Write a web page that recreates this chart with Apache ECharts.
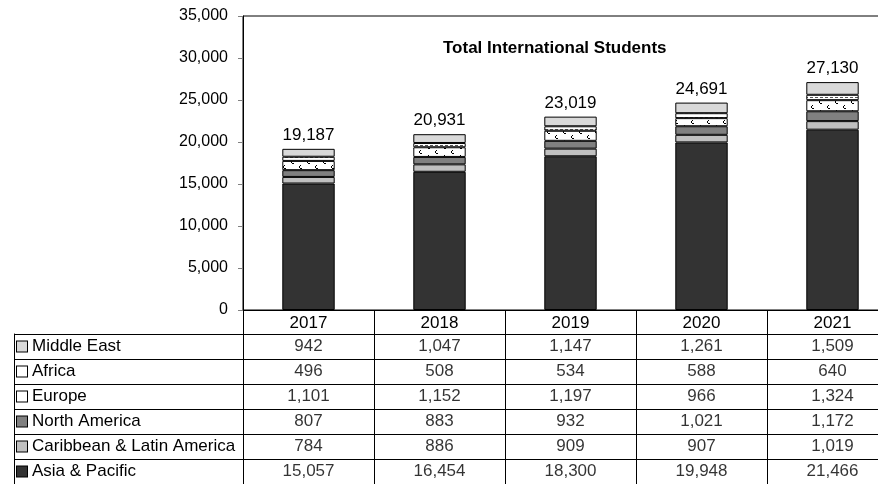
<!DOCTYPE html>
<html>
<head>
<meta charset="utf-8">
<script src="https://cdn.jsdelivr.net/npm/echarts@6/dist/echarts.min.js"></script>
<style>
html,body{margin:0;padding:0;background:#fff;}
#chart{width:878px;height:484px;}
</style>
</head>
<body>
<div id="chart"></div>
<script>
const years = ['2017', '2018', '2019', '2020', '2021'];
const rowNames = ['Middle East', 'Africa', 'Europe', 'North America', 'Caribbean & Latin America', 'Asia & Pacific'];
const asiaPacific = [15057, 16454, 18300, 19948, 21466];
const caribbeanLatinAmerica = [784, 886, 909, 907, 1019];
const northAmerica = [807, 883, 932, 1021, 1172];
const europe = [1101, 1152, 1197, 966, 1324];
const africa = [496, 508, 534, 588, 640];
const middleEast = [942, 1047, 1147, 1261, 1509];
const totals = [19187, 20931, 23019, 24691, 27130];
const yTicks = [0, 5000, 10000, 15000, 20000, 25000, 30000, 35000];

const FONT = "'Liberation Sans', Arial, sans-serif";
const fmt = v => Number(v).toLocaleString('en-US');

function makePattern(w, h, marks, ink) {
  const c = document.createElement('canvas');
  c.width = w; c.height = h;
  const g = c.getContext('2d');
  g.fillStyle = '#ffffff';
  g.fillRect(0, 0, w, h);
  g.fillStyle = ink;
  marks.forEach(d => g.fillRect(d[0], d[1], d[2] || 1, d[3] || 1));
  return c;
}
function curl(x, y) {
  return [[x + 1, y, 1, 1], [x, y + 1, 1, 2], [x + 1, y + 3, 2, 1]];
}
const europePattern = {
  image: makePattern(16, 10, curl(3, 0).concat(curl(11, 5)), '#000000'),
  repeat: 'repeat'
};
const africaPattern = { image: makePattern(5, 4, [[0, 1, 3, 1]], '#555555'), repeat: 'repeat' };

const seriesDefs = [
  { name: 'Asia & Pacific', data: asiaPacific, color: '#333333', sw: '#333333' },
  { name: 'Caribbean & Latin America', data: caribbeanLatinAmerica, color: '#c0c0c0', sw: '#c0c0c0' },
  { name: 'North America', data: northAmerica, color: '#808080', sw: '#808080' },
  { name: 'Europe', data: europe, color: europePattern, sw: '#ffffff' },
  { name: 'Africa', data: africa, color: africaPattern, sw: '#ffffff' },
  { name: 'Middle East', data: middleEast, color: '#d9d9d9', sw: '#d9d9d9' }
];
const rowSeries = { 'Middle East': middleEast, 'Africa': africa, 'Europe': europe, 'North America': northAmerica, 'Caribbean & Latin America': caribbeanLatinAmerica, 'Asia & Pacific': asiaPacific };

const barSeries = seriesDefs.map((s, k) => ({
  type: 'bar', name: s.name, stack: 'total', data: s.data,
  xAxisIndex: 0, yAxisIndex: 0, barWidth: '40%',
  itemStyle: { color: s.color, borderColor: '#000', borderWidth: 1 },
  label: k === seriesDefs.length - 1 ? {
    show: true, position: 'top', distance: 5,
    formatter: p => fmt(totals[p.dataIndex]),
    fontFamily: FONT, fontSize: 17, color: '#000'
  } : { show: false },
  silent: true
}));

const cellData = [];
rowNames.forEach((n, r) => rowSeries[n].forEach((v, i) => cellData.push([i, r, v])));

const rich = { t: { fontFamily: FONT, fontSize: 17, color: '#000', padding: [0, 0, 0, 5] } };
rowNames.forEach((n, r) => {
  const def = seriesDefs.find(s => s.name === n);
  rich['s' + r] = { width: 10, height: 10, backgroundColor: def.sw, borderColor: '#000', borderWidth: 1 };
});

const chart = echarts.init(document.getElementById('chart'), null, { renderer: 'canvas' });
chart.setOption({
  animation: false,
  backgroundColor: '#fff',
  title: {
    text: 'Total International Students', left: 438, top: 35,
    textStyle: { fontFamily: FONT, fontSize: 17, fontWeight: 'bold', color: '#000' }
  },
  grid: [
    { left: 243, top: 16, width: 655, height: 294, show: true, borderColor: '#000', borderWidth: 1, backgroundColor: 'transparent', outerBoundsMode: 'none', containLabel: false },
    { left: 243, top: 334, width: 655, height: 150, outerBoundsMode: 'none', containLabel: false }
  ],
  xAxis: [
    {
      type: 'category', gridIndex: 0, data: years,
      axisLine: { lineStyle: { color: '#000', width: 1 } },
      axisTick: { show: true, length: 24, interval: 0, lineStyle: { color: '#000' } },
      axisLabel: { margin: 5, fontFamily: FONT, fontSize: 17, color: '#000', interval: 0 },
      splitLine: { show: false }
    },
    {
      type: 'category', gridIndex: 1, data: years, position: 'top',
      axisLine: { show: true, lineStyle: { color: '#000' } },
      axisTick: { show: false }, axisLabel: { show: false },
      splitLine: { show: true, interval: 0, lineStyle: { color: '#000' } }
    }
  ],
  yAxis: [
    {
      type: 'value', gridIndex: 0, min: 0, max: 35000, interval: 5000,
      axisLine: { show: true, lineStyle: { color: '#000' } },
      axisTick: { show: true, length: 5, lineStyle: { color: '#808080' } },
      axisLabel: { formatter: v => fmt(v), fontFamily: FONT, fontSize: 16, color: '#000', margin: 15 },
      splitLine: { show: false }
    },
    {
      type: 'category', gridIndex: 1, data: rowNames, inverse: true,
      axisLine: { show: true, lineStyle: { color: '#000' } },
      axisTick: { show: true, length: 229, interval: 0, lineStyle: { color: '#000' } },
      axisLabel: {
        interval: 0, align: 'left', margin: 226,
        formatter: (v, i) => '{s' + i + '|}{t|' + v + '}', rich: rich
      },
      splitLine: { show: true, interval: 0, lineStyle: { color: '#000' } }
    },
    {
      type: 'value', gridIndex: 1, position: 'left', offset: 229,
      axisLine: { show: true, lineStyle: { color: '#000' } },
      axisTick: { show: false }, axisLabel: { show: false }, splitLine: { show: false }
    }
  ],
  series: barSeries.concat([{
    type: 'scatter', xAxisIndex: 1, yAxisIndex: 1, data: cellData,
    symbolSize: 1, itemStyle: { color: 'rgba(0,0,0,0)' }, silent: true,
    label: {
      show: true, position: 'inside', formatter: p => fmt(p.value[2]),
      fontFamily: FONT, fontSize: 17, color: '#000'
    }
  }])
});
</script>
</body>
</html>
